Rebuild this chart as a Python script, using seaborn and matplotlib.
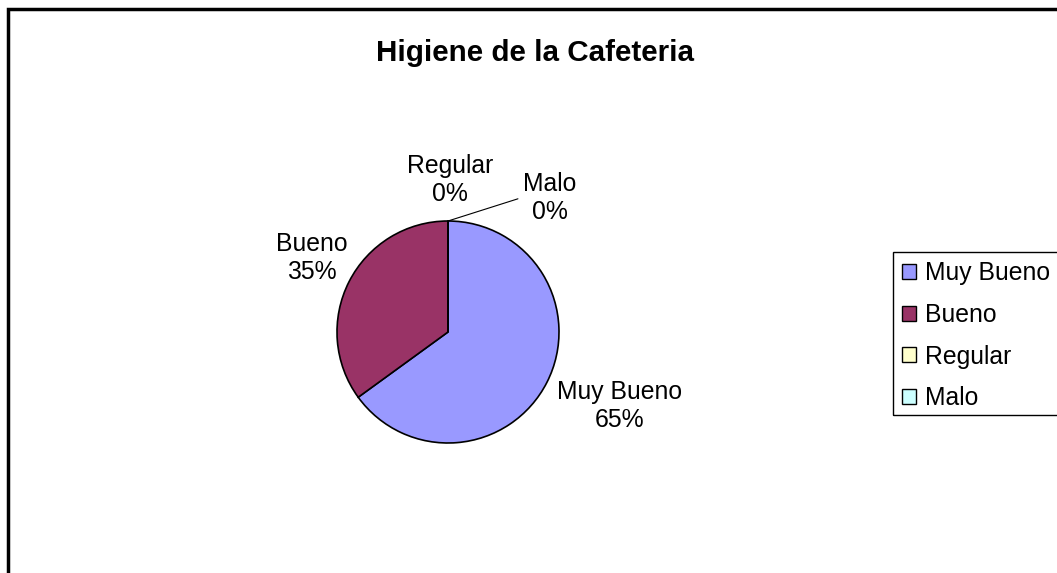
import matplotlib
matplotlib.use("Agg")
import matplotlib.pyplot as plt
import seaborn as sns
from matplotlib.patches import Rectangle, Patch

categories = ["Muy Bueno", "Bueno", "Regular", "Malo"]
values = [65, 35, 0, 0]
pct_labels = ["65%", "35%", "0%", "0%"]
colors = ["#9999FF", "#993366", "#FFFFCC", "#CCFFFF"]
title = "Higiene de la Cafeteria"

sns.set_style("white")
plt.rcParams["font.family"] = ["Liberation Sans", "DejaVu Sans"]
plt.rcParams["text.color"] = "black"

W, H = 1057, 573
fig = plt.figure(figsize=(W / 100, H / 100), dpi=100)
fig.patch.set_facecolor("white")

# pie axes: centre (448, 332) px, radius 111 px
cx, cy, r, half = 448, 332, 111, 200
ax = fig.add_axes([(cx - half) / W, (H - (cy + half)) / H, 2 * half / W, 2 * half / H])
lim = half / r
ax.axis("off")

ax.pie(values, colors=colors, startangle=90, counterclock=False,
       wedgeprops=dict(edgecolor="black", linewidth=1.2), radius=1.0)
ax.set_xlim(-lim, lim)
ax.set_ylim(-lim, lim)
ax.set_aspect("auto")

fs = 17.8
lab_pos = {
    "Muy Bueno": (1.55, -0.67),
    "Bueno": (-1.23, 0.67),
    "Regular": (0.02, 1.37),
    "Malo": (0.92, 1.21),
}
for cat, pct in zip(categories, pct_labels):
    x, y = lab_pos[cat]
    ax.text(x, y, f"{cat}\n{pct}", ha="center", va="center", fontsize=fs,
            linespacing=1.2, clip_on=False, color="black")

# leader line for Malo
ax.plot([0.0, 0.63], [1.0, 1.2], color="black", lw=0.8, clip_on=False)

fig.text(535 / W, 1 - 53 / H, title, ha="center", va="center",
         fontsize=21.3, fontweight="bold", color="black")

handles = [Patch(facecolor=c, edgecolor="black", linewidth=1.0) for c in colors]
leg = fig.legend(handles, categories, loc="upper left",
                 bbox_to_anchor=(902 / W, 1 - 261 / H), frameon=False,
                 fontsize=fs, handlelength=0.55, handleheight=0.55,
                 handletextpad=0.4, labelspacing=0.72, borderpad=0.0,
                 borderaxespad=0.0)
for t in leg.get_texts():
    t.set_color("black")

# legend frame and chart border (extend past the image edge)
fig.patches.append(Rectangle((893 / W, 1 - 415 / H), 200 / W, (415 - 252) / H,
                             transform=fig.transFigure, fill=False,
                             edgecolor="black", lw=1.0))
fig.patches.append(Rectangle((8 / W, -50 / H), 1100 / W, (H + 50 - 9) / H,
                             transform=fig.transFigure, fill=False,
                             edgecolor="black", lw=2.5))

fig.savefig("out.png", dpi=100)
